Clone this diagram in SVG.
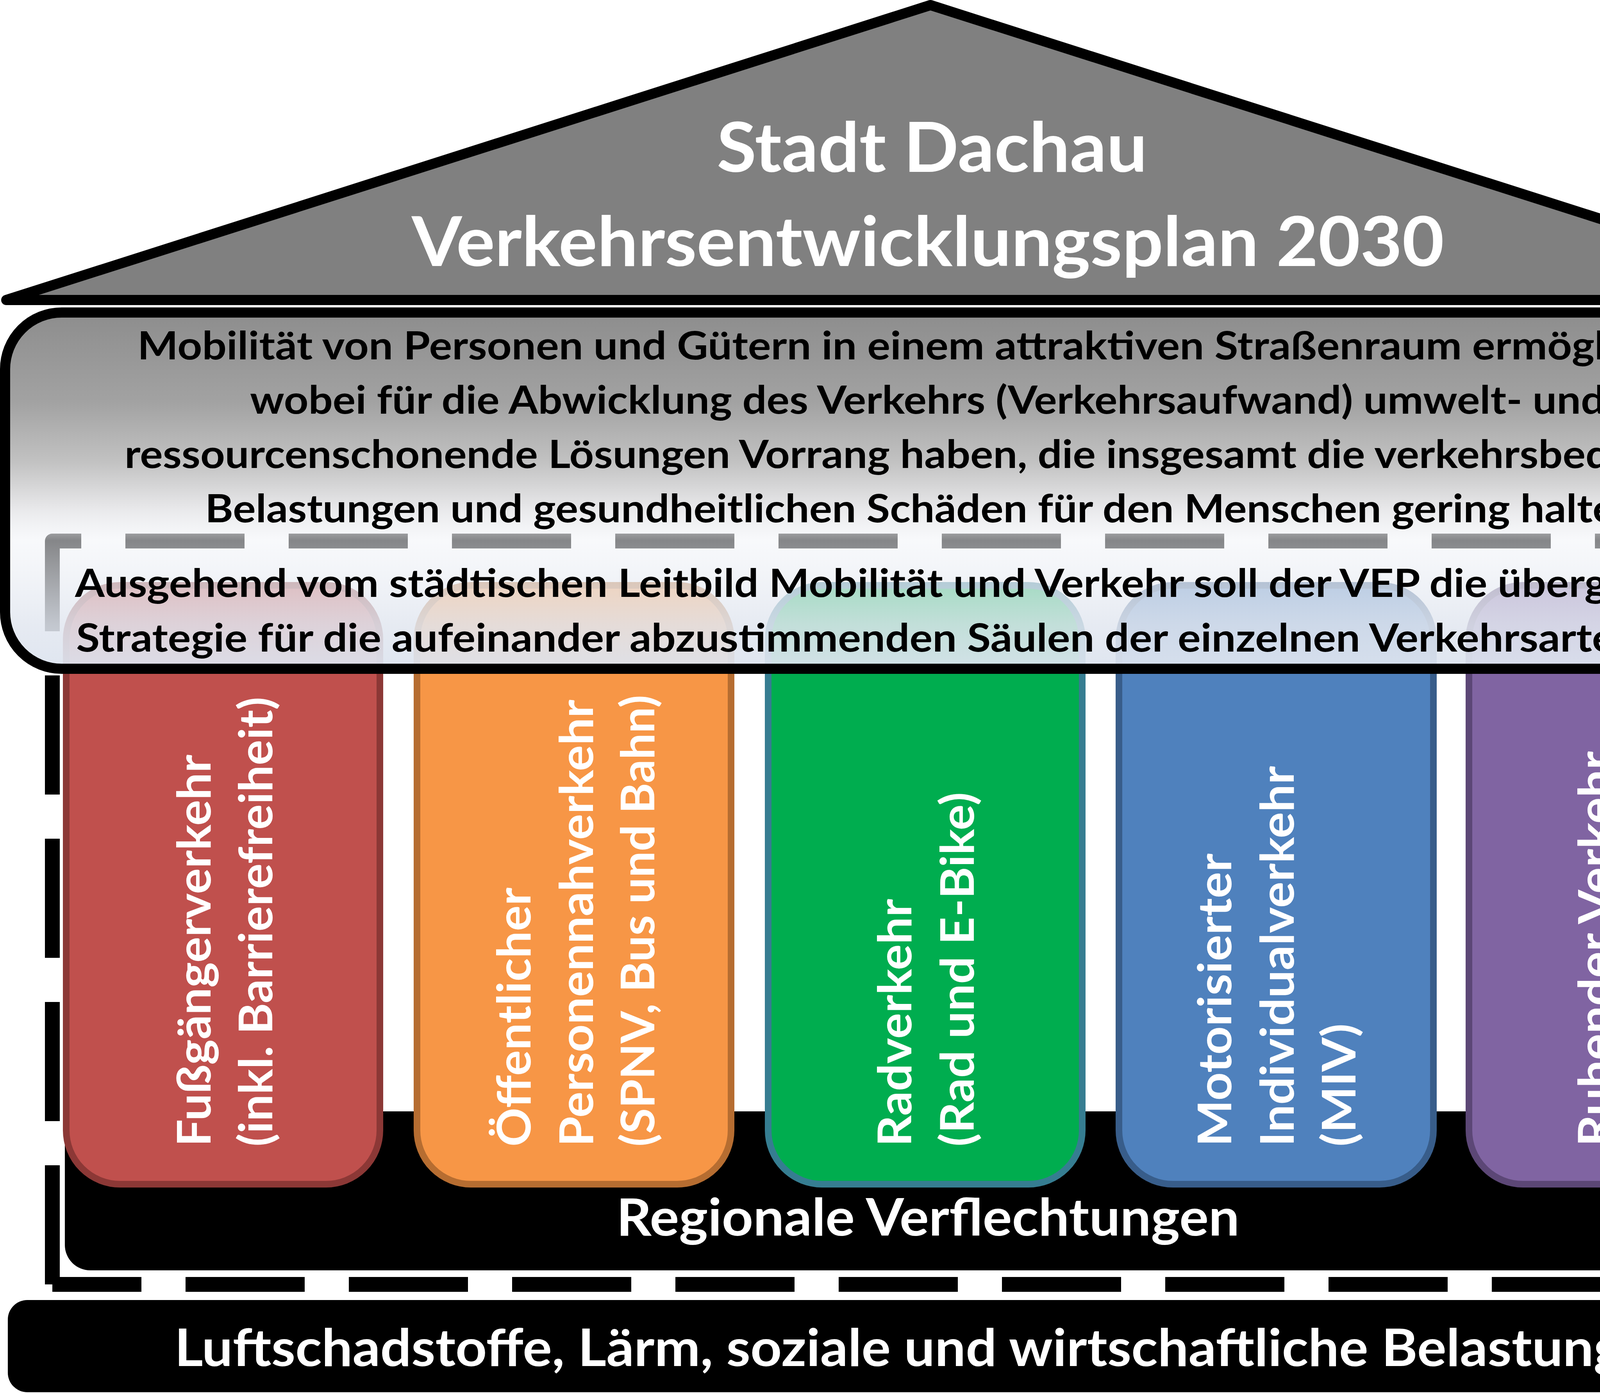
<svg xmlns="http://www.w3.org/2000/svg" width="4745" height="3566" viewBox="0 0 4745 3566">
<style>
.t{font-family:Lato,'Open Sans','DejaVu Sans',sans-serif;font-weight:700}
.w{fill:#fff}
.k{fill:#000}
.title{font-size:176px}
.body{font-size:100px}
.ptxt{font-size:118px}
.big{font-size:133px}
.pil{stroke-width:17}
</style>
<defs>
<linearGradient id="bannerFill" x1="0" y1="800" x2="0" y2="1712" gradientUnits="userSpaceOnUse">
<stop offset="0" stop-color="#8d8d8d"/>
<stop offset="0.25" stop-color="#a2a2a2"/>
<stop offset="0.42" stop-color="#c2c2c2"/>
<stop offset="0.55" stop-color="#e8e8ea"/>
<stop offset="0.64" stop-color="#f2f4f8" stop-opacity="0.55"/>
<stop offset="0.877" stop-color="#e2e7f0" stop-opacity="0.86"/>
<stop offset="1" stop-color="#dde4ef" stop-opacity="0.95"/>
</linearGradient>
</defs>
<rect width="4745" height="3566" fill="#fff"/>

<g id="roof">
<polygon points="16,768 2382,13 4748,768" fill="#808080" stroke="#000" stroke-width="26" stroke-linejoin="round"/>
<text class="t w title" x="1835" y="440" textLength="1102" lengthAdjust="spacingAndGlyphs">Stadt Dachau</text>
<text class="t w title" x="1054" y="681" textLength="2643" lengthAdjust="spacingAndGlyphs">Verkehrsentwicklungsplan 2030</text>
</g>

<g id="frame">
<path d="M134,3288 V1385 H4615 V3288 H134" fill="none" stroke="#000" stroke-width="38" stroke-dasharray="305 113" stroke-linejoin="round"/>
</g>

<g id="regional">
<rect x="166" y="2845" width="4414" height="407" rx="65" fill="#000"/>
<text class="t w big" x="1578" y="3163" textLength="1595" lengthAdjust="spacingAndGlyphs">Regionale Verflechtungen</text>
</g>

<g id="pillar-fuss">
<rect class="pil" x="169.5" y="1498.5" width="803" height="1533" rx="138" ry="138" fill="#c0504d" stroke="#8c3836"/>
<text class="t w ptxt" transform="translate(539,2935) rotate(-90)" textLength="1003" lengthAdjust="spacingAndGlyphs">Fußgängerverkehr</text>
<text class="t w ptxt" transform="translate(697,2935) rotate(-90)" textLength="1151" lengthAdjust="spacingAndGlyphs">(inkl. Barrierefreiheit)</text>
</g>

<g id="pillar-oepnv">
<rect class="pil" x="1067.5" y="1498.5" width="804" height="1533" rx="138" ry="138" fill="#f79646" stroke="#b66d31"/>
<text class="t w ptxt" transform="translate(1358,2935) rotate(-90)" textLength="663" lengthAdjust="spacingAndGlyphs">Öffentlicher</text>
<text class="t w ptxt" transform="translate(1518,2935) rotate(-90)" textLength="1144" lengthAdjust="spacingAndGlyphs">Personennahverkehr</text>
<text class="t w ptxt" transform="translate(1675,2935) rotate(-90)" textLength="1156" lengthAdjust="spacingAndGlyphs">(SPNV, Bus und Bahn)</text>
</g>

<g id="pillar-rad">
<rect class="pil" x="1966.5" y="1498.5" width="804" height="1533" rx="138" ry="138" fill="#00ad4f" stroke="#367d91"/>
<text class="t w ptxt" transform="translate(2333,2935) rotate(-90)" textLength="634" lengthAdjust="spacingAndGlyphs">Radverkehr</text>
<text class="t w ptxt" transform="translate(2493,2935) rotate(-90)" textLength="907" lengthAdjust="spacingAndGlyphs">(Rad und E-Bike)</text>
</g>

<g id="pillar-miv">
<rect class="pil" x="2864.5" y="1498.5" width="805" height="1533" rx="138" ry="138" fill="#4f81bd" stroke="#385d8a"/>
<text class="t w ptxt" transform="translate(3152,2935) rotate(-90)" textLength="750" lengthAdjust="spacingAndGlyphs">Motorisierter</text>
<text class="t w ptxt" transform="translate(3312,2935) rotate(-90)" textLength="974" lengthAdjust="spacingAndGlyphs">Individualverkehr</text>
<text class="t w ptxt" transform="translate(3470,2935) rotate(-90)" textLength="315" lengthAdjust="spacingAndGlyphs">(MIV)</text>
</g>

<g id="pillar-ruhend">
<rect class="pil" x="3760.5" y="1498.5" width="805" height="1533" rx="138" ry="138" fill="#8064a2" stroke="#5c4776"/>
<text class="t w ptxt" transform="translate(4126,2935) rotate(-90)" textLength="1012" lengthAdjust="spacingAndGlyphs">Ruhender Verkehr</text>
<text class="t w ptxt" transform="translate(4285,2935) rotate(-90)" textLength="1125" lengthAdjust="spacingAndGlyphs">(Parken und Liefern)</text>
</g>

<g id="banner">
<rect x="13" y="800" width="4718" height="912" rx="145" ry="145" fill="url(#bannerFill)" stroke="#000" stroke-width="26"/>
<text class="t k body" x="352" y="920" textLength="4047" lengthAdjust="spacingAndGlyphs">Mobilität von Personen und Gütern in einem attraktiven Straßenraum ermöglichen,</text>
<text class="t k body" x="640" y="1059" textLength="3469" lengthAdjust="spacingAndGlyphs">wobei für die Abwicklung des Verkehrs (Verkehrsaufwand) umwelt- und</text>
<text class="t k body" x="319" y="1198" textLength="4110" lengthAdjust="spacingAndGlyphs">ressourcenschonende Lösungen Vorrang haben, die insgesamt die verkehrsbedingten</text>
<text class="t k body" x="525" y="1337" textLength="3698" lengthAdjust="spacingAndGlyphs">Belastungen und gesundheitlichen Schäden für den Menschen gering halten.</text>
<text class="t k body" x="192" y="1528" textLength="4362" lengthAdjust="spacingAndGlyphs">Ausgehend vom städtischen Leitbild Mobilität und Verkehr soll der VEP die übergeordnete</text>
<text class="t k body" x="195" y="1668" textLength="4355" lengthAdjust="spacingAndGlyphs">Strategie für die aufeinander abzustimmenden Säulen der einzelnen Verkehrsarten bilden.</text>
</g>

<g id="base">
<rect x="20" y="3328" width="4711" height="236" rx="50" fill="#000"/>
<text class="t w big" x="447" y="3497" textLength="3859" lengthAdjust="spacingAndGlyphs">Luftschadstoffe, Lärm, soziale und wirtschaftliche Belastungen</text>
</g>

<g id="connectors"/>
</svg>
